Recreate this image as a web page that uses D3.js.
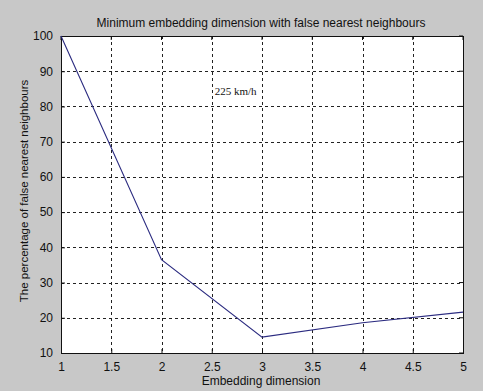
<!DOCTYPE html>
<html>
<head>
<meta charset="utf-8">
<script src="https://cdn.jsdelivr.net/npm/d3@7"></script>
<style>
  html, body { margin: 0; padding: 0; background: #c8c8c8; }
  svg { display: block; }
</style>
</head>
<body>
<svg id="chart" width="483" height="391"></svg>
<script>
// Embedding dimension vs. percentage of false nearest neighbours
const dimensions = [1, 2, 3, 4, 5];
const fnnPercent = [100, 36.5, 14.5, 18.6, 21.6];
const xTicks = [1, 1.5, 2, 2.5, 3, 3.5, 4, 4.5, 5];
const yTicks = [10, 20, 30, 40, 50, 60, 70, 80, 90, 100];

const sans = "Liberation Sans, Arial, sans-serif";
const serif = "Liberation Serif, Times New Roman, serif";

const svg = d3.select("#chart");
const plotL = 61, plotR = 463, plotT = 36, plotB = 353;

const x = d3.scaleLinear().domain([1, 5]).range([plotL, plotR]);
const y = d3.scaleLinear().domain([10, 100]).range([plotB, plotT]);

// plot background
svg.append("rect")
  .attr("x", plotL).attr("y", plotT)
  .attr("width", plotR - plotL).attr("height", plotB - plotT)
  .attr("fill", "#ffffff");

// dotted grid
const grid = svg.append("g").attr("stroke", "#222").attr("stroke-width", 1)
  .attr("stroke-dasharray", "3,3");
grid.selectAll("line.v").data(xTicks.slice(1, -1)).join("line")
  .attr("x1", d => Math.round(x(d)) + 0.5).attr("x2", d => Math.round(x(d)) + 0.5)
  .attr("y1", plotT).attr("y2", plotB);
grid.selectAll("line.h").data(yTicks.slice(1, -1)).join("line")
  .attr("y1", d => Math.round(y(d)) + 0.5).attr("y2", d => Math.round(y(d)) + 0.5)
  .attr("x1", plotL).attr("x2", plotR);

// axes with inward ticks
const xAxis = d3.axisBottom(x).tickValues(xTicks).tickSizeInner(-4).tickSizeOuter(0).tickPadding(9)
  .tickFormat(d3.format("~g"));
const yAxis = d3.axisLeft(y).tickValues(yTicks).tickSizeInner(-4).tickSizeOuter(0).tickPadding(8);

const gx = svg.append("g").attr("transform", `translate(0,${plotB})`).call(xAxis);
const gy = svg.append("g").attr("transform", `translate(${plotL},0)`).call(yAxis);
[gx, gy].forEach(g => {
  g.attr("font-family", sans).attr("font-size", 12);
  g.select(".domain").remove();
  g.selectAll("line").attr("stroke", "#111");
  g.selectAll("text").attr("fill", "#111");
});

// mirrored ticks on top/right
svg.append("g").selectAll("line").data(xTicks).join("line")
  .attr("x1", d => x(d)).attr("x2", d => x(d)).attr("y1", plotT).attr("y2", plotT + 4).attr("stroke", "#111");
svg.append("g").selectAll("line").data(yTicks).join("line")
  .attr("y1", d => y(d)).attr("y2", d => y(d)).attr("x1", plotR).attr("x2", plotR - 4).attr("stroke", "#111");

// frame
svg.append("rect")
  .attr("x", plotL + 0.5).attr("y", plotT + 0.5)
  .attr("width", plotR - plotL).attr("height", plotB - plotT)
  .attr("fill", "none").attr("stroke", "#111").attr("stroke-width", 1);

// data line
const line = d3.line().x((d, i) => x(dimensions[i])).y(d => y(d));
svg.append("path").datum(fnnPercent)
  .attr("d", line).attr("fill", "none")
  .attr("stroke", "#2b2b80").attr("stroke-width", 1.1);

// annotation
svg.append("text").attr("x", x(2.53)).attr("y", y(83.3))
  .attr("font-family", serif).attr("font-size", 11).attr("fill", "#111")
  .text("225 km/h");

// title and axis labels
const labels = svg.append("g").attr("font-family", sans).attr("fill", "#111").attr("text-anchor", "middle");
labels.append("text").attr("x", 261).attr("y", 27)
  .attr("font-size", 12)
  .text("Minimum embedding dimension with false nearest neighbours");
labels.append("text").attr("x", 261).attr("y", 385)
  .attr("font-size", 12)
  .text("Embedding dimension");
labels.append("text")
  .attr("transform", `translate(28,191) rotate(-90)`)
  .attr("font-size", 11.5)
  .text("The percentage of false nearest neighbours");
</script>
</body>
</html>
